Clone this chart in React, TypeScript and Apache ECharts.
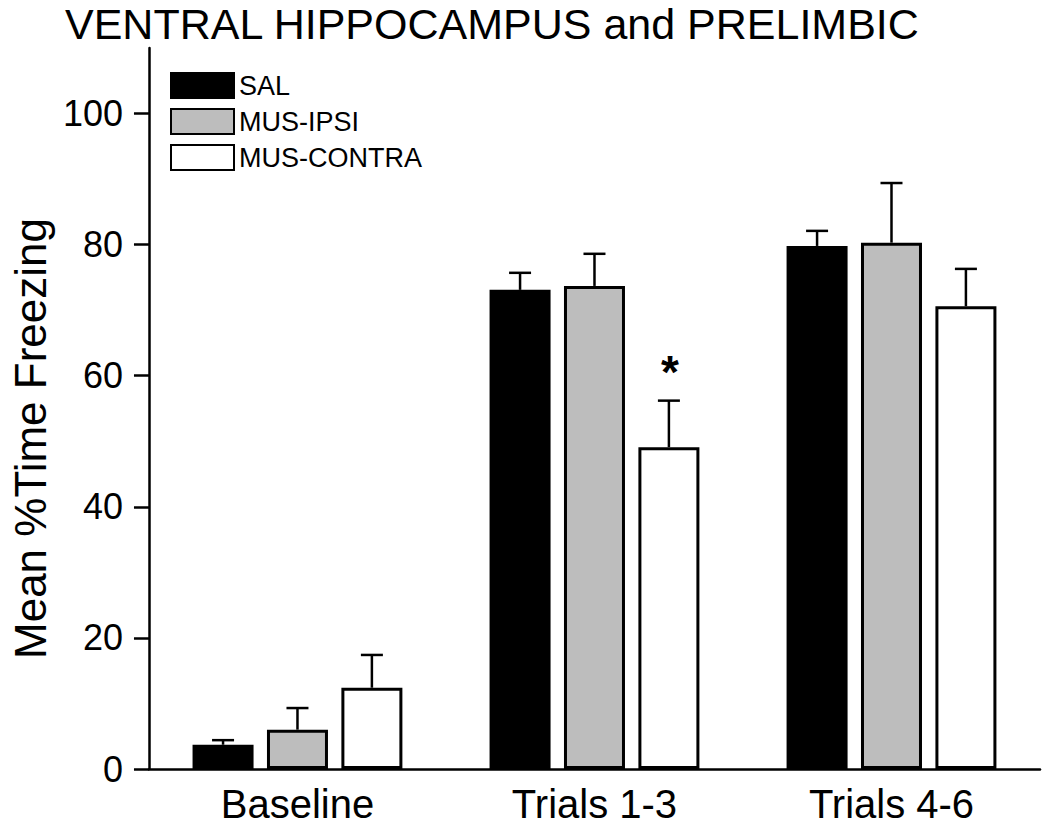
import React, { useEffect, useRef } from "react";
import * as echarts from "echarts";

const categories = ["Baseline", "Trials 1-3", "Trials 4-6"];
const seriesNames = ["SAL", "MUS-IPSI", "MUS-CONTRA"];
const salMean = [3.7, 73.1, 79.8];
const salErr = [0.7, 2.6, 2.3];
const ipsiMean = [6.0, 73.7, 80.3];
const ipsiErr = [3.3, 4.9, 9.1];
const contraMean = [12.4, 49.1, 70.6];
const contraErr = [5.0, 7.1, 5.7];
const contraSig = ["", "*", ""];
const yTicks = [0, 20, 40, 60, 80, 100];

const FONT = "'Liberation Sans', Arial, Helvetica, sans-serif";
const fills = ["#000000", "#bdbdbd", "#ffffff"];
const BAR_W = 61;
const BAR_GAP = 0.22;

export default function App() {
  const ref = useRef<HTMLDivElement>(null);
  useEffect(() => {
    if (!ref.current) return;
    const chart = echarts.init(ref.current, null, { renderer: "svg" });
    const means = [salMean, ipsiMean, contraMean];
    const errs = [salErr, ipsiErr, contraErr];
    const sigs = [["", "", ""], ["", "", ""], contraSig];

    const barSeries = seriesNames.map((name, i) => ({
      name,
      type: "bar",
      data: means[i],
      barWidth: BAR_W,
      barGap: BAR_GAP * 100 + "%",
      itemStyle: { color: fills[i], borderColor: "#000", borderWidth: 3 },
      z: 2,
    }));

    const errSeries = seriesNames.map((name, i) => ({
      name: name + "-err",
      type: "custom",
      z: 3,
      data: categories.map((_, k) => [k, means[i][k], errs[i][k]]),
      renderItem: (params: any, api: any) => {
        const k = api.value(0);
        const m = api.value(1);
        const e = api.value(2);
        const sig = sigs[i][k];
        const base = api.coord([k, m]);
        const top = api.coord([k, m + e]);
        const offset = (i - 1) * BAR_W * (1 + BAR_GAP);
        const x = base[0] + offset;
        const cap = 11;
        const children: any[] = [
          {
            type: "line",
            shape: { x1: x, y1: base[1], x2: x, y2: top[1] },
            style: { stroke: "#000", lineWidth: 2.5 },
          },
          {
            type: "line",
            shape: { x1: x - cap, y1: top[1], x2: x + cap, y2: top[1] },
            style: { stroke: "#000", lineWidth: 2.5 },
          },
        ];
        if (sig) {
          children.push({
            type: "text",
            x: x + 1,
            y: top[1] - 6,
            style: {
              text: sig,
              fill: "#000",
              font: `bold 46px ${FONT}`,
              textAlign: "center",
              textVerticalAlign: "bottom",
            },
          });
        }
        return { type: "group", children };
      },
    }));

    chart.setOption({
      animation: false,
      backgroundColor: "#ffffff",
      title: {
        text: "VENTRAL HIPPOCAMPUS and PRELIMBIC",
        left: 65,
        top: 2,
        padding: 0,
        textStyle: { fontFamily: FONT, fontSize: 43, fontWeight: "normal", color: "#000" },
      },
      legend: {
        data: seriesNames,
        orient: "vertical",
        left: 165,
        top: 67,
        itemWidth: 63,
        itemHeight: 25,
        itemGap: 9,
        icon: "rect",
        textStyle: { fontFamily: FONT, fontSize: 27, color: "#000", lineHeight: 25 },
      },
      grid: { left: 145, right: 10, top: 48, bottom: 70, containLabel: false },
      xAxis: {
        type: "category",
        data: categories,
        axisLine: { lineStyle: { color: "#000", width: 2.5 } },
        axisTick: { show: false },
        axisLabel: { fontFamily: FONT, fontSize: 40, color: "#000", margin: 15 },
      },
      yAxis: {
        type: "value",
        min: 0,
        max: 110,
        interval: 20,
        name: "Mean %Time Freezing",
        nameLocation: "middle",
        nameRotate: 90,
        nameGap: 92,
        nameTextStyle: { fontFamily: FONT, fontSize: 44, color: "#000", padding: [0, 60, 0, 0] },
        splitLine: { show: false },
        axisLine: { show: true, lineStyle: { color: "#000", width: 2.5 } },
        axisTick: { show: true, length: 15, lineStyle: { color: "#000", width: 2.5 }, customValues: yTicks },
        axisLabel: { fontFamily: FONT, fontSize: 36, color: "#000", margin: 26, customValues: yTicks },
      },
      series: [...barSeries, ...errSeries],
    });
    return () => chart.dispose();
  }, []);
  return <div ref={ref} style={{ width: 1050, height: 839, position: "absolute", left: 0, top: 0 }} />;
}
